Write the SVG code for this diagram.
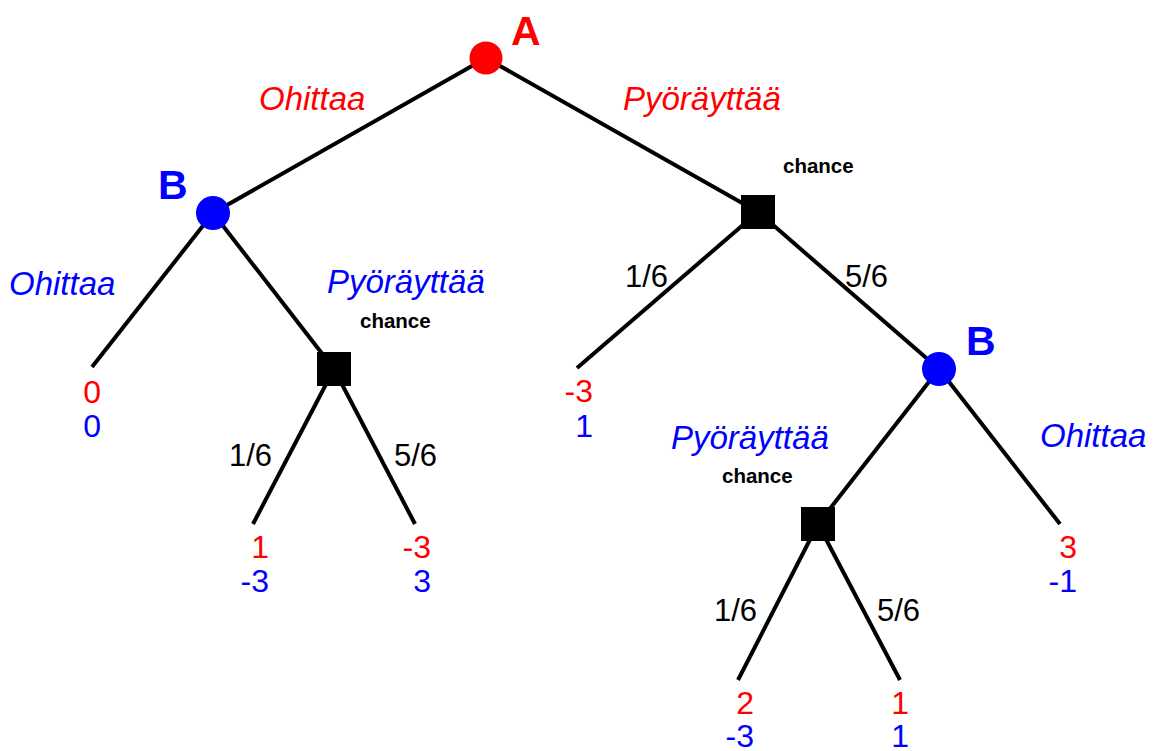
<svg xmlns="http://www.w3.org/2000/svg" width="1162" height="751" viewBox="0 0 1162 751">
  <style>
    .edge { stroke: #000; stroke-width: 4; fill: none; }
    .lbl { font-family: "Liberation Sans", Arial, sans-serif; }
    .move { font-size: 33px; font-style: italic; }
    .player { font-size: 41px; font-weight: bold; }
    .chance { font-size: 20.5px; font-weight: bold; fill: #000; }
    .prob { font-size: 31px; fill: #000; }
    .pay { font-size: 32px; text-anchor: end; }
    .red { fill: #ff0000; }
    .blue { fill: #0000ff; }
  </style>
  <rect width="1162" height="751" fill="#fff"/>

  <!-- branches of the game tree -->
  <g id="connectors">
    <line class="edge" x1="486" y1="58" x2="213" y2="213"/>
    <line class="edge" x1="486" y1="58" x2="758" y2="212"/>
    <line class="edge" x1="213" y1="213" x2="92" y2="367"/>
    <line class="edge" x1="213" y1="213" x2="334" y2="369"/>
    <line class="edge" x1="334" y1="369" x2="253" y2="524"/>
    <line class="edge" x1="334" y1="369" x2="415" y2="524"/>
    <line class="edge" x1="758" y1="212" x2="577" y2="368"/>
    <line class="edge" x1="758" y1="212" x2="939" y2="369"/>
    <line class="edge" x1="939" y1="369" x2="818" y2="524"/>
    <line class="edge" x1="939" y1="369" x2="1060" y2="524"/>
    <line class="edge" x1="818" y1="524" x2="738" y2="680"/>
    <line class="edge" x1="818" y1="524" x2="900" y2="680"/>
  </g>

  <!-- root: player A -->
  <g id="nodeA">
    <circle cx="486" cy="58" r="16.5" fill="#ff0000"/>
    <text class="lbl player red" x="511" y="45">A</text>
  </g>

  <!-- player B after A passes -->
  <g id="nodeB1">
    <circle cx="213" cy="213" r="17" fill="#0000ff"/>
    <text class="lbl player blue" x="158" y="199">B</text>
  </g>

  <!-- chance after A rolls -->
  <g id="chance1">
    <rect x="741" y="195" width="34" height="34" fill="#000"/>
    <text class="lbl chance" x="783" y="173">chance</text>
  </g>

  <!-- chance after B rolls (left) -->
  <g id="chance2">
    <rect x="317" y="352" width="34" height="34" fill="#000"/>
    <text class="lbl chance" x="360" y="328">chance</text>
  </g>

  <!-- player B after A's roll -->
  <g id="nodeB2">
    <circle cx="939" cy="369" r="17" fill="#0000ff"/>
    <text class="lbl player blue" x="966" y="355">B</text>
  </g>

  <!-- chance after B rolls (right) -->
  <g id="chance3">
    <rect x="801" y="507" width="34" height="34" fill="#000"/>
    <text class="lbl chance" x="722" y="483">chance</text>
  </g>

  <!-- move labels -->
  <g id="moves">
    <text class="lbl move red" x="259" y="110">Ohittaa</text>
    <text class="lbl move red" x="623" y="110">Pyöräyttää</text>
    <text class="lbl move blue" x="9" y="295">Ohittaa</text>
    <text class="lbl move blue" x="327" y="293">Pyöräyttää</text>
    <text class="lbl move blue" x="671" y="449">Pyöräyttää</text>
    <text class="lbl move blue" x="1040" y="447">Ohittaa</text>
  </g>

  <!-- probabilities -->
  <g id="probabilities">
    <text class="lbl prob" x="625" y="287">1/6</text>
    <text class="lbl prob" x="845" y="287">5/6</text>
    <text class="lbl prob" x="229" y="466">1/6</text>
    <text class="lbl prob" x="394" y="466">5/6</text>
    <text class="lbl prob" x="714" y="621">1/6</text>
    <text class="lbl prob" x="877" y="621">5/6</text>
  </g>

  <!-- payoffs (A in red, B in blue) -->
  <g id="leaf1">
    <text class="lbl pay red" x="101" y="403">0</text>
    <text class="lbl pay blue" x="101" y="437">0</text>
  </g>
  <g id="leaf2">
    <text class="lbl pay red" x="269" y="558">1</text>
    <text class="lbl pay blue" x="269" y="592">-3</text>
  </g>
  <g id="leaf3">
    <text class="lbl pay red" x="431" y="558">-3</text>
    <text class="lbl pay blue" x="431" y="592">3</text>
  </g>
  <g id="leaf4">
    <text class="lbl pay red" x="593" y="402">-3</text>
    <text class="lbl pay blue" x="593" y="437">1</text>
  </g>
  <g id="leaf5">
    <text class="lbl pay red" x="754" y="714">2</text>
    <text class="lbl pay blue" x="754" y="747">-3</text>
  </g>
  <g id="leaf6">
    <text class="lbl pay red" x="909" y="714">1</text>
    <text class="lbl pay blue" x="909" y="747">1</text>
  </g>
  <g id="leaf7">
    <text class="lbl pay red" x="1077" y="558">3</text>
    <text class="lbl pay blue" x="1077" y="592">-1</text>
  </g>
</svg>
